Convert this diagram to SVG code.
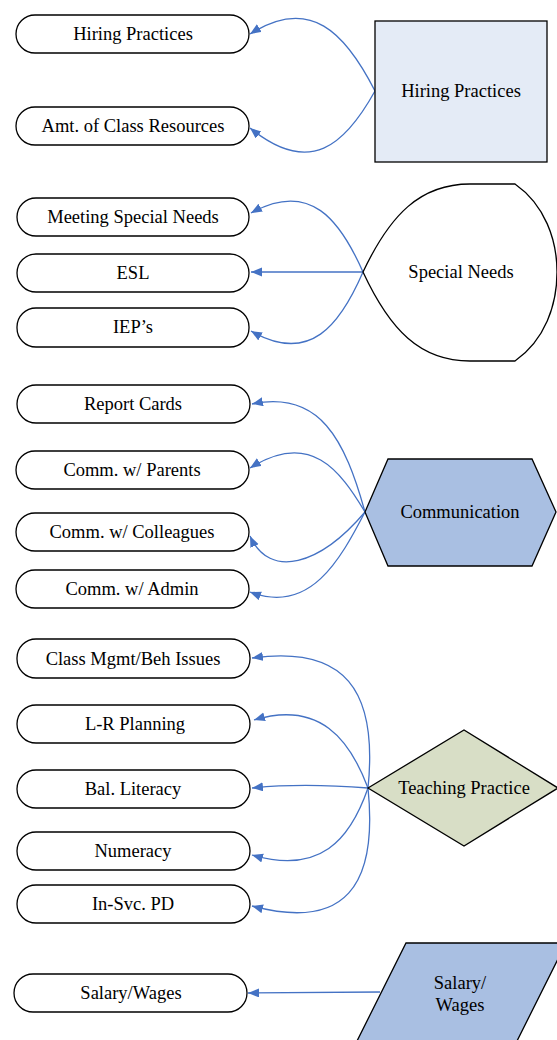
<svg xmlns="http://www.w3.org/2000/svg" width="557" height="1040" viewBox="0 0 557 1040">
<style>
.pill{fill:#fff;stroke:#000;stroke-width:1.3}
.shape{stroke:#000;stroke-width:1.3}
.t{font-family:"Liberation Serif","Times New Roman",serif;font-size:18.5px;fill:#000;text-anchor:middle}
.c{fill:none;stroke:#4472c4;stroke-width:1.3;marker-end:url(#ah)}
</style>
<defs>
<marker id="ah" markerUnits="userSpaceOnUse" markerWidth="12" markerHeight="10" refX="11" refY="4.5" orient="auto">
<path d="M0,0 L11,4.5 L0,9 Z" fill="#4472c4"/>
</marker>
</defs>
<rect width="557" height="1040" fill="#fff"/>
<g id="connectors">
<path class="c" d="M375,91 C345,32 310,-4 250,34"/>
<path class="c" d="M375,91 C345,145 310,177 250,128"/>
<path class="c" d="M363,272 C340,220 310,180 251,213"/>
<path class="c" d="M363,272 L251,272"/>
<path class="c" d="M363,272 C340,325 310,365 251,331"/>
<path class="c" d="M365,512 C345,440 320,390 252,404"/>
<path class="c" d="M365,512 C340,470 310,430 250,468"/>
<path class="c" d="M365,512 C320,565 270,580 250,536"/>
<path class="c" d="M365,512 C340,560 310,615 250,592"/>
<path class="c" d="M368,788 C378,690 345,645 252,658"/>
<path class="c" d="M368,788 C350,740 320,700 254,720"/>
<path class="c" d="M368,788 C330,785 290,784 252,788"/>
<path class="c" d="M368,788 C350,840 320,875 252,855"/>
<path class="c" d="M368,788 C378,886 345,931 252,906"/>
<path class="c" d="M380,992 L248,993"/>
</g>
<g id="n-hiring-1"><rect class="pill" x="16" y="15" width="233" height="38" rx="19"/><text class="t" x="133" y="40">Hiring Practices</text></g>
<g id="n-amt"><rect class="pill" x="16" y="107" width="233" height="38" rx="19"/><text class="t" x="133" y="132">Amt. of Class Resources</text></g>
<g id="n-hiring-main"><rect class="shape" x="375" y="21" width="172" height="141" fill="#e4ebf6"/><text class="t" x="461" y="97">Hiring Practices</text></g>
<g id="n-meeting"><rect class="pill" x="17" y="198" width="232" height="38" rx="19"/><text class="t" x="133" y="223">Meeting Special Needs</text></g>
<g id="n-esl"><rect class="pill" x="17" y="254" width="232" height="38" rx="19"/><text class="t" x="133" y="279">ESL</text></g>
<g id="n-iep"><rect class="pill" x="17" y="308" width="232" height="39" rx="19"/><text class="t" x="133" y="333">IEP’s</text></g>
<g id="n-special"><path class="shape" fill="#fff" d="M363,272 C390,215 420,184 470,184 L515,184 C545,205 557,240 557,272 C557,305 545,340 515,361 L470,361 C420,361 390,330 363,272 Z"/><text class="t" x="461" y="278">Special Needs</text></g>
<g id="n-report"><rect class="pill" x="17" y="385" width="233" height="38" rx="19"/><text class="t" x="133" y="410">Report Cards</text></g>
<g id="n-parents"><rect class="pill" x="16" y="451" width="233" height="38" rx="19"/><text class="t" x="132" y="476">Comm. w/ Parents</text></g>
<g id="n-colleagues"><rect class="pill" x="16" y="513" width="233" height="38" rx="19"/><text class="t" x="132" y="538">Comm. w/ Colleagues</text></g>
<g id="n-admin"><rect class="pill" x="16" y="570" width="233" height="38" rx="19"/><text class="t" x="132" y="595">Comm. w/ Admin</text></g>
<g id="n-comm"><polygon class="shape" fill="#a9bfe2" points="365,512 388,459 532,459 556,512 532,566 388,566"/><text class="t" x="460" y="518">Communication</text></g>
<g id="n-class"><rect class="pill" x="17" y="639" width="233" height="39" rx="19"/><text class="t" x="133" y="665">Class Mgmt/Beh Issues</text></g>
<g id="n-lr"><rect class="pill" x="17" y="705" width="233" height="38" rx="19"/><text class="t" x="135" y="730">L-R Planning</text></g>
<g id="n-bal"><rect class="pill" x="17" y="770" width="233" height="38" rx="19"/><text class="t" x="133" y="795">Bal. Literacy</text></g>
<g id="n-num"><rect class="pill" x="17" y="832" width="233" height="38" rx="19"/><text class="t" x="133" y="857">Numeracy</text></g>
<g id="n-insvc"><rect class="pill" x="17" y="885" width="233" height="38" rx="19"/><text class="t" x="133" y="910">In-Svc. PD</text></g>
<g id="n-teach"><polygon class="shape" fill="#d8dec6" points="368,788 464,730 558,788 464,846"/><text class="t" x="464" y="794">Teaching Practice</text></g>
<g id="n-salary"><rect class="pill" x="14" y="974" width="233" height="38" rx="19"/><text class="t" x="131" y="999">Salary/Wages</text></g>
<g id="n-salary-main"><polygon class="shape" fill="#a9bfe2" points="406,943 566,943 506,1063 346,1063"/><text class="t" x="460" y="989">Salary/</text><text class="t" x="460" y="1011">Wages</text></g>
</svg>
